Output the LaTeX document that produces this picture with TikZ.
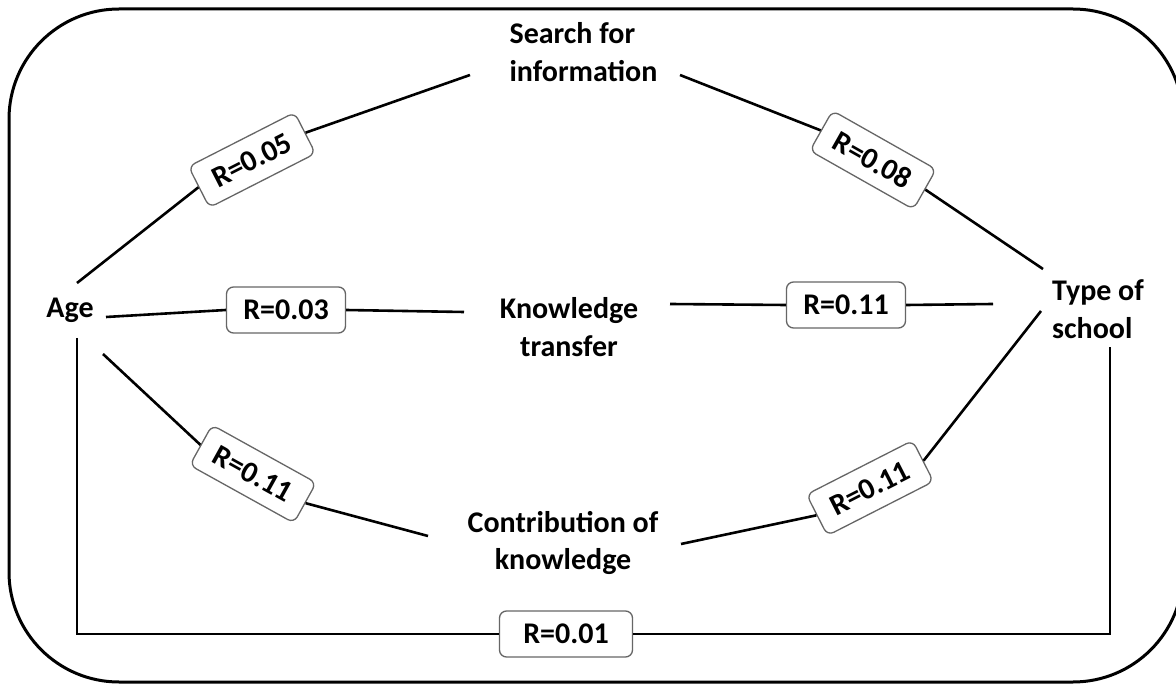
\documentclass[tikz,border=0pt]{standalone}
\usepackage{fontspec}
\setmainfont{Carlito}
\begin{document}
\begin{tikzpicture}[x=1pt,y=-1pt,
  lab/.style={font=\fontsize{30}{37.5}\selectfont\bfseries, inner sep=0pt},
  rbox/.style={draw=black!60, line width=1.3pt, rounded corners=7pt, fill=white,
    inner sep=0pt, minimum width=119pt, minimum height=46pt,
    font=\fontsize{30}{36}\selectfont\bfseries},
  conn/.style={line width=2.6pt}]
\useasboundingbox (0,0) rectangle (1176,684);
\clip (0,0) rectangle (1176,684);
\fill[white] (0,0) rectangle (1176,684);
\draw[line width=3pt, rounded corners=110pt] (9,9) rectangle (1183,682);

% concept nodes
\node[lab] (age) at (70,310) {Age};
\node[lab, align=left] (search) at (583.5,52) {Search for\\information};
\node[lab, align=center] (know) at (569,327) {Knowledge\\transfer};
\node[lab, align=center] (contrib) at (563,543) {Contribution of\\knowledge};
\node[lab, align=left] (type) at (1098,309) {Type of\\school};

% correlation boxes
\node[rbox, rotate=27] (r05) at (252,160) {R=0.05};
\node[rbox, rotate=-29.5] (r08) at (873,160) {R=0.08};
\node[rbox] (r03) at (286,310) {R=0.03};
\node[rbox] (r11a) at (846,305) {R=0.11};
\node[rbox, rotate=-29] (r11b) at (253,474) {R=0.11};
\node[rbox, rotate=27] (r11c) at (870,488) {R=0.11};
\node[rbox, minimum width=133pt] (r01) at (566,634) {R=0.01};

% connectors
\draw[conn] ([shift={(7,-27)}]age.center) -- (r05.west);
\draw[conn] (r05.east) -- ([shift={(-113.5,23)}]search.center);
\draw[conn] ([shift={(96.5,23)}]search.center) -- (r08.west);
\draw[conn] (r08.east) -- ([shift={(-55,-40)}]type.center);
\draw[conn] ([shift={(36,7)}]age.center) -- (r03.west);
\draw[conn] (r03.east) -- ([shift={(-105,-15)}]know.center);
\draw[conn] ([shift={(101,-23)}]know.center) -- (r11a.west);
\draw[conn] (r11a.east) -- ([shift={(-105,-5)}]type.center);
\draw[conn] ([shift={(33,44)}]age.center) -- (r11b.west);
\draw[conn] (r11b.east) -- ([shift={(-135,-7)}]contrib.center);
\draw[conn] ([shift={(118,1)}]contrib.center) -- (r11c.west);
\draw[conn] (r11c.east) -- ([shift={(-57,2)}]type.center);
\draw[conn] ([shift={(7,28)}]age.center) |- (r01.west);
\draw[conn] (r01.east) -| ([shift={(12,38)}]type.center);
\end{tikzpicture}
\end{document}
